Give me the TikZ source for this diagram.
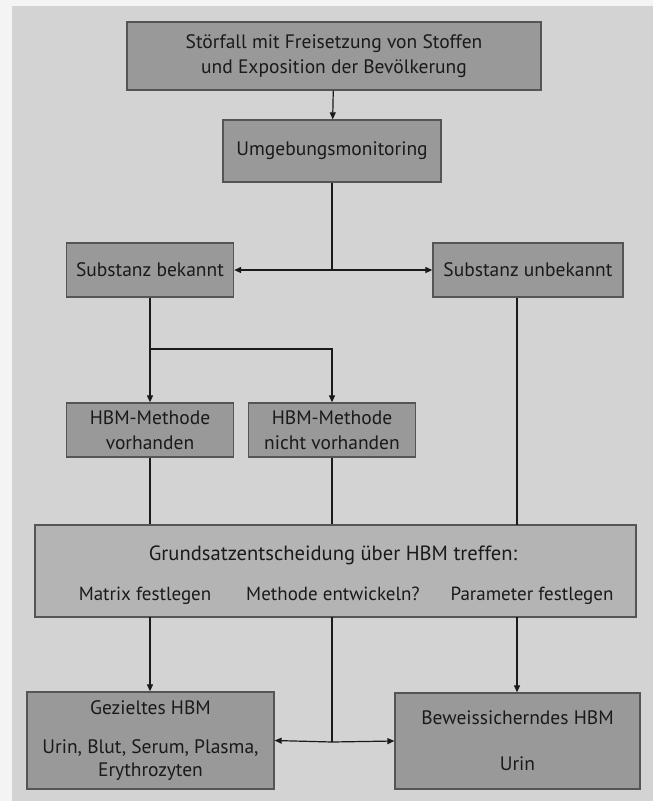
\documentclass[tikz,border=0pt]{standalone}
\usepackage{fontspec}
\setmainfont{PT Sans}
\usetikzlibrary{arrows.meta}
\definecolor{outerbg}{HTML}{F4F4F4}
\definecolor{panelbg}{HTML}{D3D3D3}
\definecolor{boxdark}{HTML}{999999}
\definecolor{boxlight}{HTML}{B4B4B4}
\definecolor{boxline}{HTML}{555555}
\definecolor{txt}{HTML}{1A1A1A}
\tikzset{
  darkbox/.style={draw=boxline, line width=1.3pt, fill=boxdark, text=txt, align=center, inner sep=0pt,
    font=\fontsize{19.5}{25}\selectfont},
  lightbox/.style={draw=boxline, line width=1.3pt, fill=boxlight, inner sep=0pt},
  lbl/.style={text=txt, inner sep=0pt, align=center, anchor=base},
  conn/.style={draw=txt, line width=1.2pt},
  arr/.style={conn, -{Triangle[length=7pt,width=6pt]}},
}
\begin{document}
\begin{tikzpicture}[x=1pt,y=-1pt]
\fill[outerbg] (0,0) rectangle (653,801);
\fill[panelbg] (12,6) rectangle (653,801);
\useasboundingbox (0,0) rectangle (653,801);

\node[darkbox, minimum width=414pt, minimum height=68pt] (top) at (334,56)
  {Störfall mit Freisetzung von Stoffen\\und Exposition der Bevölkerung};
\node[darkbox, minimum width=218pt, minimum height=62pt] (umg) at (332,151) {Umgebungsmonitoring};
\node[darkbox, minimum width=167pt, minimum height=54pt] (sb) at (150,270) {Substanz bekannt};
\node[darkbox, minimum width=190pt, minimum height=54pt] (su) at (528,270) {Substanz unbekannt};
\node[darkbox, minimum width=167pt, minimum height=54pt] (hv) at (150,430) {HBM-Methode\\vorhanden};
\node[darkbox, minimum width=167pt, minimum height=54pt] (hn) at (332,430) {HBM-Methode\\nicht vorhanden};
\node[lightbox, minimum width=601pt, minimum height=92pt] (gs) at (335.5,571) {};
\node[lbl, font=\fontsize{20.6}{25}\selectfont] (gst) at (333,560) {Grundsatzentscheidung über HBM treffen:};
\node[lbl, font=\fontsize{19}{25}\selectfont] (gs1) at (145,600) {Matrix festlegen};
\node[lbl, font=\fontsize{19}{25}\selectfont] (gs2) at (333,600) {Methode entwickeln?};
\node[lbl, font=\fontsize{19}{25}\selectfont] (gs3) at (532,600) {Parameter festlegen};
\node[darkbox, minimum width=247pt, minimum height=97pt, font=\fontsize{19.5}{23}\selectfont] (gz) at (150.5,740.5)
  {Gezieltes HBM\\[16pt]Urin, Blut, Serum, Plasma,\\Erythrozyten};
\node[darkbox, minimum width=245pt, minimum height=96pt] (bw) at (517.5,741)
  {Beweissicherndes HBM\\[21pt]Urin};

\coordinate (j1) at (332,270);
\coordinate (j2) at (150,349);
\coordinate (j3) at (332,742);

\draw[arr] (top) -- (umg);
\draw[conn] (umg.south) -- (j1);
\draw[arr] (j1) -- (sb.east);
\draw[arr] (j1) -- (su.west);
\draw[conn] (sb.south) -- (j2);
\draw[arr] (j2) -- (hv.north);
\draw[arr] (j2) -| (hn.north);
\draw[conn] (hv.south) -- (hv.south |- gs.north);
\draw[conn] (hn.south) -- (hn.south |- gs.north);
\draw[conn] (su.south -| 517,0) -- (517,525);
\draw[arr] (150,617) -- (gz.north -| 150,0);
\draw[arr] (517,617) -- (bw.north -| 517,0);
\draw[conn] (332,617) -- (j3);
\draw[arr] (j3) -- (gz.east);
\draw[arr] (j3) -- (bw.west);
\end{tikzpicture}
\end{document}
